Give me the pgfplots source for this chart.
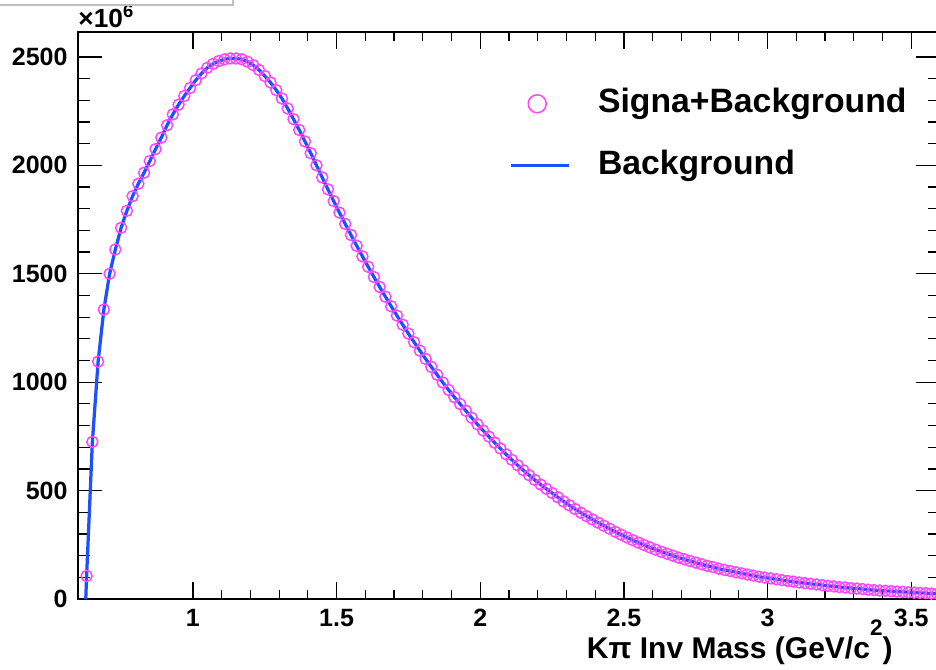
\documentclass[border=0pt]{standalone}
\usepackage{fontspec}
\setmainfont{Liberation Sans}
\usepackage{pgfplots}
\usepackage{pgfplotstable}
\pgfplotsset{compat=1.18}

\definecolor{sigpink}{RGB}{255,70,255}
\definecolor{bkgblue}{RGB}{30,80,255}

% K pi invariant mass, bin centres (GeV/c^2) and counts (x 10^6)
\pgfplotstableread{
m v
0.627 0
0.63 106
0.65 725
0.67 1095
0.69 1335
0.71 1500
0.73 1612
0.75 1712
0.77 1790
0.79 1858
0.81 1915
0.83 1966
0.85 2020
0.87 2075
0.89 2128
0.91 2185
0.93 2235
0.95 2280
0.97 2320
0.99 2357
1.01 2393
1.03 2424
1.05 2450
1.07 2468
1.09 2481
1.11 2489
1.13 2493
1.15 2493
1.17 2489
1.19 2478
1.21 2462
1.23 2440
1.25 2412
1.27 2382
1.29 2347
1.31 2308
1.33 2262
1.35 2213
1.37 2163
1.39 2110
1.41 2056
1.43 2000
1.45 1944
1.47 1889
1.49 1835
1.51 1782
1.53 1730
1.55 1679
1.57 1629
1.59 1580
1.61 1532
1.63 1485
1.65 1439
1.67 1394
1.69 1350
1.71 1307
1.73 1265
1.75 1224
1.77 1184
1.79 1145
1.81 1107
1.83 1070
1.85 1034
1.87 998
1.89 964
1.91 931
1.93 899
1.95 868
1.97 836
1.99 806
2.01 777
2.03 749
2.05 721
2.07 694
2.09 667
2.11 642
2.13 617
2.15 594
2.17 571
2.19 549
2.21 528
2.23 508
2.25 489
2.27 469
2.29 450
2.31 432
2.33 415
2.35 398
2.37 382
2.39 367
2.41 352
2.43 338
2.45 324
2.47 310
2.49 297
2.51 284
2.53 272
2.55 260
2.57 249
2.59 238
2.61 228
2.63 218
2.65 209
2.67 200
2.69 191
2.71 183
2.73 175
2.75 168
2.77 160
2.79 153
2.81 147
2.83 140
2.85 134
2.87 129
2.89 123
2.91 118
2.93 113
2.95 108
2.97 103
2.99 99
3.01 95
3.03 91
3.05 87
3.07 83
3.09 80
3.11 76
3.13 73
3.15 70
3.17 67
3.19 64
3.21 61
3.23 58
3.25 55
3.27 53
3.29 50
3.31 48
3.33 46
3.35 43
3.37 41
3.39 39
3.41 38
3.43 36
3.45 34
3.47 33
3.49 31
3.51 29
3.53 28
3.55 27
3.57 25
3.59 24
}\kpidata

\begin{document}
\begin{tikzpicture}
\begin{axis}[
  name=ax,
  scale only axis,
  width=344.8pt, height=226.8pt,
  xmin=0.6, xmax=3.6, ymin=0, ymax=2615,
  xtick={1,1.5,2,2.5,3,3.5},
  ytick={0,500,1000,1500,2000,2500},
  minor tick num=4,
  axis line style={line width=0.5pt},
  tick style={black, line width=0.5pt},
  xtick style={/pgfplots/major tick length=6.8pt, /pgfplots/minor tick length=3.6pt},
  ytick style={/pgfplots/major tick length=9.6pt, /pgfplots/minor tick length=4.8pt},
  scaled ticks=false,
  /pgf/number format/1000 sep={},
  /pgf/number format/assume math mode=true,
  ticklabel style={font=\bfseries\fontsize{10}{12}\selectfont},
  xticklabel style={inner sep=0pt, yshift=-4pt},
  yticklabel style={inner sep=0pt, xshift=-4pt},
  legend style={draw=none, fill=none, at={(rel axis cs:0.5,0.903)}, anchor=north west,
    inner sep=0pt, font=\bfseries\fontsize{13.5}{16}\selectfont,
    column sep=11.2pt, row sep=11.8pt,
    nodes={inner sep=0pt, text height=10pt, text depth=3pt}},
  legend cell align=left,
]
\addplot[only marks, mark=o, mark size=2.2pt, sigpink, mark options={line width=0.6pt},
  restrict x to domain=0.628:3.6,
  legend image code/.code={\draw[sigpink, line width=0.6pt] (10.6pt,0pt) circle (3.6pt);
    \path[draw=none] (0pt,0pt) (23.2pt,0pt);}]
  table[x=m, y=v] {\kpidata};
\addlegendentry{Signa+Background}
\addplot[bkgblue, line width=1.3pt, no markers,
  legend image code/.code={\draw[bkgblue, line width=1pt] (0pt,0pt) -- (23.2pt,0pt);}]
  table[x=m, y=v] {\kpidata};
\addlegendentry{Background}
\end{axis}
% axis title and exponent label, set in ROOT's positions
\node[anchor=base east, inner sep=0pt, font=\bfseries\fontsize{12}{14}\selectfont]
  at ([shift={(326pt,-23.6pt)}]ax.south west)
  {Kπ Inv Mass (GeV/c\raisebox{9pt}{\fontsize{9}{9}\selectfont 2})};
\node[anchor=south west, inner sep=0pt, font=\bfseries\fontsize{10.5}{12}\selectfont]
  at ([yshift=1.6pt]ax.north west) {×10\textsuperscript{6}};
\draw[gray!50, line width=0.5pt] ([shift={(-31.2pt,237.6pt)}]ax.south west) -- ++(93.2pt,0pt) -- ++(0pt,3pt);
\pgfresetboundingbox
\path[use as bounding box] ([shift={(-31.2pt,-28pt)}]ax.south west) rectangle ([shift={(343.2pt,239.6pt)}]ax.south west);
\end{tikzpicture}
\end{document}
